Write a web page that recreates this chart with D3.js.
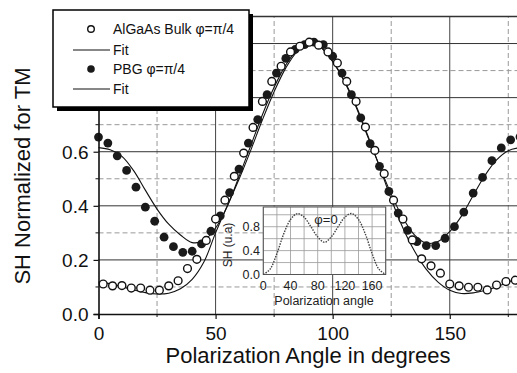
<!DOCTYPE html>
<html>
<head>
<meta charset="utf-8">
<script src="https://cdn.jsdelivr.net/npm/d3@7"></script>
<style>
  body { margin: 0; background: #fff; }
  svg { display: block; font-family: "Liberation Sans", Arial, sans-serif; }
</style>
</head>
<body>
<svg id="chart" width="517" height="373"></svg>
<script>
// AlGaAs bulk (open circles)
var bulkAngle = [2, 6, 10, 14, 18, 22, 26, 30, 34, 38, 42, 46, 50, 54, 58, 62, 66, 70, 74, 78, 82, 86, 90,
    94, 98, 102, 106, 110, 114, 118, 122, 126, 130, 134, 138, 142, 146, 150, 154, 158, 162, 166, 170, 174, 178];
var bulkValue = [0.111, 0.104, 0.105, 0.096, 0.096, 0.088, 0.088, 0.104, 0.123, 0.168, 0.202, 0.272, 0.351,
    0.421, 0.509, 0.595, 0.690, 0.786, 0.860, 0.916, 0.969, 0.990, 1.005, 0.994, 0.969, 0.928, 0.860, 0.786,
    0.691, 0.605, 0.519, 0.421, 0.351, 0.274, 0.204, 0.178, 0.151, 0.111, 0.104, 0.099, 0.099, 0.089, 0.107,
    0.120, 0.125];

// PBG (filled circles)
var pbgAngle = [0, 4, 8, 12, 16, 20, 24, 28, 32, 36, 40, 44, 48, 52, 56, 60, 64, 68, 72, 76, 80, 84, 88, 92,
    96, 100, 104, 108, 112, 116, 120, 124, 128, 132, 136, 140, 144, 148, 152, 156, 160, 164, 168, 172, 176, 180];
var pbgValue = [0.654, 0.632, 0.585, 0.531, 0.469, 0.395, 0.343, 0.284, 0.249, 0.228, 0.232, 0.259, 0.306,
    0.363, 0.449, 0.536, 0.632, 0.719, 0.811, 0.891, 0.945, 0.978, 0.996, 1.005, 0.996, 0.953, 0.891, 0.811,
    0.725, 0.630, 0.546, 0.453, 0.373, 0.309, 0.268, 0.253, 0.253, 0.280, 0.323, 0.377, 0.447, 0.505, 0.567,
    0.614, 0.644, 0.655];

// fit curves
var fitAngle = [0, 5, 10, 15, 20, 25, 30, 35, 40, 45, 50, 55, 60, 65, 70, 75, 80, 85, 90, 95, 100, 105, 110,
    115, 120, 125, 130, 135, 140, 145, 150, 155, 160, 165, 170, 175, 180];
var bulkFit = [0.118, 0.112, 0.101, 0.089, 0.079, 0.074, 0.077, 0.093, 0.128, 0.192, 0.300, 0.400, 0.498,
    0.605, 0.718, 0.822, 0.910, 0.972, 1.000, 0.985, 0.935, 0.862, 0.770, 0.660, 0.545, 0.425, 0.318, 0.232,
    0.165, 0.118, 0.088, 0.076, 0.078, 0.087, 0.100, 0.118, 0.135];
var pbgFit = [0.615, 0.607, 0.583, 0.530, 0.458, 0.388, 0.332, 0.292, 0.264, 0.272, 0.318, 0.398, 0.508,
    0.622, 0.737, 0.838, 0.921, 0.978, 1.000, 0.985, 0.933, 0.860, 0.765, 0.655, 0.547, 0.443, 0.355, 0.292,
    0.262, 0.268, 0.305, 0.362, 0.438, 0.512, 0.570, 0.604, 0.615];

// inset, phi = 0
var insetAngle = [0, 10, 20, 30, 40, 50, 60, 70, 80, 90, 100, 110, 120, 130, 140, 150, 160, 170, 180];
var insetValue = [0.0, 0.09, 0.35, 0.68, 0.92, 1.02, 0.96, 0.80, 0.63, 0.54, 0.63, 0.80, 0.96, 1.02, 0.92,
    0.68, 0.35, 0.09, 0.0];

var xMinor = [25, 75, 125, 175];
var yMinor = [0.1, 0.3, 0.5, 0.7, 0.9];
var insetXTicks = [0, 40, 80, 120, 160];
var insetYTicks = [0, 0.4, 0.8];

var svg = d3.select("#chart");

var x = d3.scaleLinear().domain([0, 180]).range([98.5, 520]);
var y = d3.scaleLinear().domain([0, 1.1]).range([314, 16.5]);

// grid
var grid = svg.append("g");
grid.selectAll(".vminor").data(xMinor).enter().append("line")
    .attr("x1", d => x(d)).attr("x2", d => x(d))
    .attr("y1", y(0)).attr("y2", y(1.1))
    .attr("stroke", "#999").attr("stroke-width", 1).attr("stroke-dasharray", "5,3");
grid.selectAll(".hminor").data(yMinor).enter().append("line")
    .attr("x1", x(0)).attr("x2", x(180))
    .attr("y1", d => y(d)).attr("y2", d => y(d))
    .attr("stroke", "#999").attr("stroke-width", 1).attr("stroke-dasharray", "5,3");
grid.selectAll(".vmajor").data(x.ticks(4).slice(1)).enter().append("line")
    .attr("x1", d => x(d)).attr("x2", d => x(d))
    .attr("y1", y(0)).attr("y2", y(1.1))
    .attr("stroke", "#444").attr("stroke-width", 1);
grid.selectAll(".hmajor").data([0.2, 0.4, 0.6, 0.8, 1.0, 1.1]).enter().append("line")
    .attr("x1", x(0)).attr("x2", x(180))
    .attr("y1", d => y(d)).attr("y2", d => y(d))
    .attr("stroke", "#333").attr("stroke-width", d => d == 1.1 ? 1.6 : 1);

// fits
var line = d3.line().x(d => x(d[0])).y(d => y(d[1])).curve(d3.curveCatmullRom);
svg.append("path").attr("d", line(fitAngle.map((a, i) => [a, bulkFit[i]])))
    .attr("fill", "none").attr("stroke", "#111").attr("stroke-width", 1.1);
svg.append("path").attr("d", line(fitAngle.map((a, i) => [a, pbgFit[i]])))
    .attr("fill", "none").attr("stroke", "#111").attr("stroke-width", 1.1);

// points
svg.selectAll(".pbg").data(pbgAngle).enter().append("circle")
    .attr("cx", d => x(d)).attr("cy", (d, i) => y(pbgValue[i])).attr("r", 4.4)
    .attr("fill", "#1a1a1a");
svg.selectAll(".bulk").data(bulkAngle).enter().append("circle")
    .attr("cx", d => x(d)).attr("cy", (d, i) => y(bulkValue[i])).attr("r", 3.9)
    .attr("fill", "#fff").attr("stroke", "#111").attr("stroke-width", 1.4);

// axes
var xAxis = svg.append("g").attr("transform", "translate(0," + y(0) + ")")
    .call(d3.axisBottom(x).tickValues(x.ticks(4)).tickSize(5).tickPadding(7).tickFormat(d3.format("d")));
var yAxis = svg.append("g").attr("transform", "translate(" + x(0) + ",0)")
    .call(d3.axisLeft(y).tickValues([0, 0.2, 0.4, 0.6, 0.8, 1.0]).tickSize(5).tickPadding(5).tickFormat(d3.format(".1f")));
[xAxis, yAxis].forEach(function(g) {
    g.select(".domain").attr("stroke", "#111").attr("stroke-width", 1.6);
    g.selectAll(".tick line").attr("stroke", "#111").attr("stroke-width", 1.2);
    g.selectAll(".tick text").attr("fill", "#111").style("font-size", "19px");
});
yAxis.selectAll(".tick text").attr("dy", "0.36em");
xAxis.selectAll(".tick text").attr("dy", "0.72em");
svg.append("g").selectAll("line").data(xMinor).enter().append("line")
    .attr("x1", d => x(d)).attr("x2", d => x(d)).attr("y1", y(0)).attr("y2", y(0) + 3)
    .attr("stroke", "#111");
svg.append("g").selectAll("line").data(yMinor).enter().append("line")
    .attr("x1", x(0) - 3).attr("x2", x(0)).attr("y1", d => y(d)).attr("y2", d => y(d))
    .attr("stroke", "#111");

svg.append("text").attr("x", 308).attr("y", 363).attr("text-anchor", "middle")
    .style("font-size", "22px").attr("fill", "#111").text("Polarization Angle in degrees");
svg.append("text").attr("transform", "translate(30,176) rotate(-90)").attr("text-anchor", "middle")
    .style("font-size", "22px").attr("fill", "#111").text("SH Normalized for TM");

// inset
var ix = d3.scaleLinear().domain([0, 180]).range([263.3, 385.7]);
var iy = d3.scaleLinear().domain([0, 1.13]).range([274.5, 207]);
var inset = svg.append("g");
inset.append("rect").attr("x", ix(0)).attr("y", iy(1.13))
    .attr("width", ix(180) - ix(0)).attr("height", iy(0) - iy(1.13))
    .attr("fill", "#fff");
inset.selectAll(".ivg").data(ix.ticks(9)).enter().append("line")
    .attr("x1", d => ix(d)).attr("x2", d => ix(d)).attr("y1", iy(0)).attr("y2", iy(1.13))
    .attr("stroke", "#999").attr("stroke-width", 0.8);
inset.selectAll(".ihg").data(iy.ticks(5)).enter().append("line")
    .attr("x1", ix(0)).attr("x2", ix(180)).attr("y1", d => iy(d)).attr("y2", d => iy(d))
    .attr("stroke", "#999").attr("stroke-width", 0.8);
inset.append("rect").attr("x", ix(0)).attr("y", iy(1.13))
    .attr("width", ix(180) - ix(0)).attr("height", iy(0) - iy(1.13))
    .attr("fill", "none").attr("stroke", "#555").attr("stroke-width", 1);
var iline = d3.line().x(d => ix(d[0])).y(d => iy(d[1])).curve(d3.curveCatmullRom);
inset.append("path").attr("d", iline(insetAngle.map((a, i) => [a, insetValue[i]])))
    .attr("fill", "none").attr("stroke", "#444").attr("stroke-width", 1.4).attr("stroke-dasharray", "1.5,1.2");
inset.selectAll(".ixl").data(insetXTicks).enter().append("text")
    .attr("x", d => ix(d)).attr("y", 289.5).attr("text-anchor", "middle")
    .style("font-size", "12.5px").attr("fill", "#222").text(d => d);
inset.selectAll(".iyl").data(insetYTicks).enter().append("text")
    .attr("x", 260).attr("y", d => iy(d) + 4.5).attr("text-anchor", "end")
    .style("font-size", "12.5px").attr("fill", "#222").text(d => d.toFixed(1));
inset.append("text").attr("x", 324).attr("y", 305).attr("text-anchor", "middle")
    .style("font-size", "12.5px").attr("fill", "#222").text("Polarization angle");
inset.append("text").attr("transform", "translate(232,245) rotate(-90)").attr("text-anchor", "middle")
    .style("font-size", "12px").attr("fill", "#222").text("SH (u.a)");
inset.append("text").attr("x", 326).attr("y", 224).attr("text-anchor", "middle")
    .style("font-size", "13px").attr("fill", "#222").text("\u03c6=0");

// legend
var legend = svg.append("g");
legend.append("rect").attr("x", 57).attr("y", 14).attr("width", 196).attr("height", 97).attr("fill", "#000");
legend.append("rect").attr("x", 53).attr("y", 10).attr("width", 196).attr("height", 97)
    .attr("fill", "#fff").attr("stroke", "#000").attr("stroke-width", 1.5);
var legendRows = [
    { type: "open", label: "AlGaAs Bulk \u03c6=\u03c0/4", y: 29 },
    { type: "line", label: "Fit", y: 50 },
    { type: "filled", label: "PBG \u03c6=\u03c0/4", y: 69 },
    { type: "line", label: "Fit", y: 89 }
];
legendRows.forEach(function(r) {
    if (r.type == "line") {
        legend.append("line").attr("x1", 73).attr("x2", 110).attr("y1", r.y).attr("y2", r.y)
            .attr("stroke", "#111").attr("stroke-width", 1.1);
    } else if (r.type == "open") {
        legend.append("circle").attr("cx", 91).attr("cy", r.y).attr("r", 3.3)
            .attr("fill", "#fff").attr("stroke", "#111").attr("stroke-width", 1.4);
    } else {
        legend.append("circle").attr("cx", 91).attr("cy", r.y).attr("r", 3.8).attr("fill", "#1a1a1a");
    }
    legend.append("text").attr("x", 113).attr("y", r.y + 5).style("font-size", "14px")
        .attr("fill", "#111").text(r.label);
});
</script>
</body>
</html>
